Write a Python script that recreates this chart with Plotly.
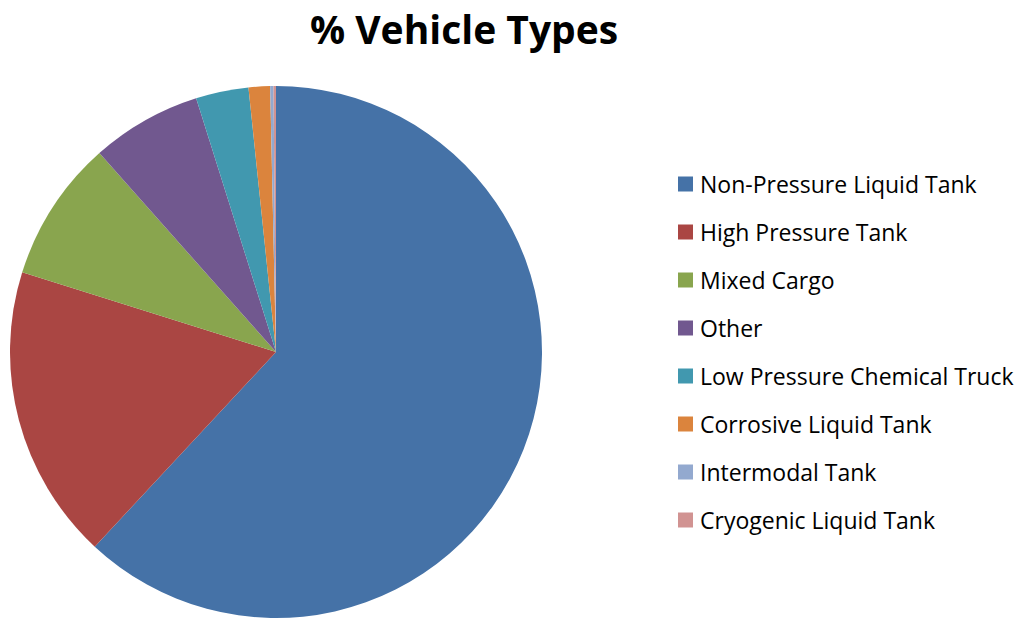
import plotly.graph_objects as go

labels = ["Non-Pressure Liquid Tank", "High Pressure Tank", "Mixed Cargo", "Other",
          "Low Pressure Chemical Truck", "Corrosive Liquid Tank", "Intermodal Tank",
          "Cryogenic Liquid Tank"]
values = [61.9, 17.9, 8.6, 6.7, 3.2, 1.3, 0.2, 0.15]
colors = ["#4572A7", "#AA4643", "#89A54E", "#71588F", "#4198AF", "#DB843D", "#93A9CF", "#D19392"]

W, H = 1020, 619

fig = go.Figure(go.Pie(
    labels=labels, values=values, sort=False, direction="clockwise", rotation=0,
    marker=dict(colors=colors, line=dict(width=0)), textinfo="none",
    hoverinfo="label+percent",
    domain=dict(x=[10 / W, 542 / W], y=[1 - 618 / H, 1 - 86 / H]),
    showlegend=False,
))

shapes = []
annotations = []
for i, (lab, col) in enumerate(zip(labels, colors)):
    yc = 184 + 48 * i
    shapes.append(dict(type="rect", xref="paper", yref="paper",
                       x0=678 / W, x1=693 / W, y0=1 - (yc + 7.5) / H, y1=1 - (yc - 7.5) / H,
                       fillcolor=col, line=dict(width=0)))
    annotations.append(dict(text=lab, xref="paper", yref="paper", x=698 / W, y=1 - yc / H,
                            xanchor="left", yanchor="middle", showarrow=False,
                            font=dict(family="Open Sans", size=23, color="#000000")))

annotations.append(dict(text="<b>% Vehicle Types</b>", xref="paper", yref="paper",
                        x=464 / W, y=1 - 28 / H, xanchor="center", yanchor="middle",
                        showarrow=False,
                        font=dict(family="Open Sans", size=39, color="#000000")))

fig.update_layout(width=W, height=H, margin=dict(l=0, r=0, t=0, b=0),
                  paper_bgcolor="white", plot_bgcolor="white",
                  shapes=shapes, annotations=annotations)

fig.write_html("out.html", config={"displayModeBar": False},
               post_script="document.body.style.margin='0px';")
